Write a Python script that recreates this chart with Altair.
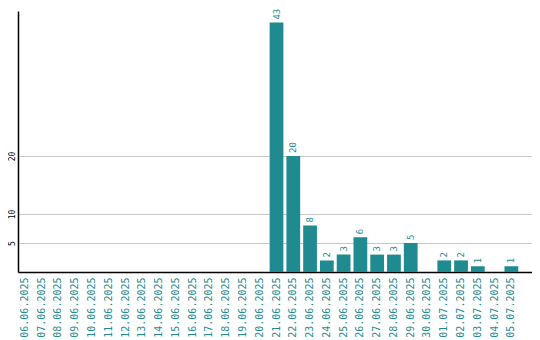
import altair as alt
import pandas as pd

dates = ["06.06.2025", "07.06.2025", "08.06.2025", "09.06.2025", "10.06.2025",
         "11.06.2025", "12.06.2025", "13.06.2025", "14.06.2025", "15.06.2025",
         "16.06.2025", "17.06.2025", "18.06.2025", "19.06.2025", "20.06.2025",
         "21.06.2025", "22.06.2025", "23.06.2025", "24.06.2025", "25.06.2025",
         "26.06.2025", "27.06.2025", "28.06.2025", "29.06.2025", "30.06.2025",
         "01.07.2025", "02.07.2025", "03.07.2025", "04.07.2025", "05.07.2025"]
counts = [0, 0, 0, 0, 0, 0, 0, 0, 0, 0, 0, 0, 0, 0, 0,
          43, 20, 8, 2, 3, 6, 3, 3, 5, 0, 2, 2, 1, 0, 1]
y_ticks = [5, 10, 20]

TEAL = "#1f8a8f"
df = pd.DataFrame({"date": dates, "count": counts})

x = alt.X("date:N", sort=None, title=None,
          scale=alt.Scale(paddingInner=0.18, paddingOuter=0.41, align=0),
          axis=alt.Axis(labelAngle=-90, labelFont="DejaVu Sans Mono", labelFontSize=10,
                        labelColor=TEAL, ticks=False, labelPadding=5,
                        domainColor="black", domainWidth=1.5, grid=False))
y = alt.Y("count:Q", title=None,
          scale=alt.Scale(domain=[0, 45], nice=False),
          axis=alt.Axis(values=y_ticks, labelAngle=-90, labelFont="DejaVu Sans Mono",
                        labelFontSize=8, labelColor="black",
                        ticks=False, labelPadding=2, labelAlign="center", labelBaseline="bottom",
                        domainColor="black", domainWidth=1.5,
                        grid=True, gridColor="#c8c8c8", gridWidth=1))

bars = alt.Chart(df).mark_bar(color=TEAL).encode(x=x, y=y)
labels = alt.Chart(df).transform_filter("datum.count > 0").mark_text(
    angle=270, align="left", baseline="middle", dx=3,
    font="DejaVu Sans Mono", fontSize=9, color=TEAL
).encode(x=alt.X("date:N", sort=None), y="count:Q", text="count:Q")

chart = (bars + labels).properties(
    width=514, height=261,
    padding={"left": 0, "top": 0, "right": 0, "bottom": 0},
    autosize=alt.AutoSizeParams(type="pad")
).configure_view(stroke=None)

chart.save("out.html", embed_options={"renderer": "svg", "actions": False})
